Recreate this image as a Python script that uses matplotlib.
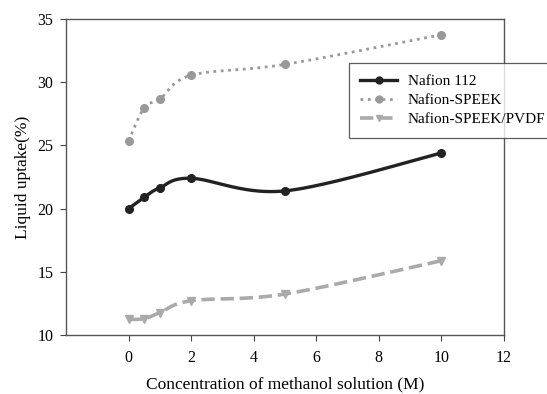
import numpy as np
import matplotlib
matplotlib.use("Agg")
import matplotlib.pyplot as plt

plt.rcParams["font.family"] = ["Liberation Serif", "DejaVu Serif"]

conc = [0, 0.5, 1, 2, 5, 10]
nafion112 = [20.0, 20.9, 21.65, 22.4, 21.4, 24.4]
nafion_speek = [25.35, 27.98, 28.67, 30.55, 31.41, 33.76]
nafion_speek_pvdf = [11.24, 11.29, 11.77, 12.71, 13.24, 15.88]


def smooth(xs, ys, n=40):
    # Excel-like smoothed line: Catmull-Rom control points as Bezier segments
    x = np.asarray(xs, float)
    y = np.asarray(ys, float)
    px = np.concatenate([[x[0]], x, [x[-1]]])
    py = np.concatenate([[y[0]], y, [y[-1]]])
    out_x, out_y = [], []
    t = np.linspace(0, 1, n)
    for i in range(1, len(px) - 2):
        p0 = np.array([px[i], py[i]])
        p3 = np.array([px[i + 1], py[i + 1]])
        p1 = p0 + (np.array([px[i + 1], py[i + 1]]) - np.array([px[i - 1], py[i - 1]])) / 6
        p2 = p3 - (np.array([px[i + 2], py[i + 2]]) - np.array([px[i], py[i]])) / 6
        b = ((1 - t) ** 3)[:, None] * p0 + (3 * (1 - t) ** 2 * t)[:, None] * p1 \
            + (3 * (1 - t) * t ** 2)[:, None] * p2 + (t ** 3)[:, None] * p3
        out_x.extend(b[:, 0])
        out_y.extend(b[:, 1])
    return out_x, out_y


fig = plt.figure(figsize=(5.47, 3.94), dpi=100)
ax = fig.add_axes([66 / 547, 1 - 335 / 394, 438 / 547, 316 / 394])

series = [
    ("Nafion 112", nafion112, "#222222", "-", "o", 2.4),
    ("Nafion-SPEEK", nafion_speek, "#999999", ":", "o", 2.0),
    ("Nafion-SPEEK/PVDF", nafion_speek_pvdf, "#aaaaaa", "--", "v", 2.6),
]
handles = []
for label, vals, col, ls, mk, lw in series:
    sx, sy = smooth(conc, vals)
    ax.plot(sx, sy, color=col, ls=ls, lw=lw)
    ax.plot(conc, vals, color=col, ls="none", marker=mk, ms=5.5)
    h, = ax.plot([], [], color=col, ls=ls, lw=lw, marker=mk, ms=5, label=label)
    handles.append(h)

ax.set_xlim(-2, 12)
ax.set_ylim(10, 35)
ax.set_xticks([0, 2, 4, 6, 8, 10, 12])
ax.set_yticks([10, 15, 20, 25, 30, 35])
ax.tick_params(direction="out", length=4, labelsize=11.5, color="#444444", pad=5)
ax.tick_params(axis="x", pad=7)
for sp in ax.spines.values():
    sp.set_color("#555555")
    sp.set_linewidth(1.0)

ax.set_xlabel("Concentration of methanol solution (M)", fontsize=12.5, labelpad=7)
ax.set_ylabel("Liquid uptake(%)", fontsize=12.5, labelpad=5)

leg = fig.legend(handles=handles, loc="upper left", bbox_to_anchor=(349 / 547, 1 - 63 / 394),
                 borderaxespad=0, fontsize=11, frameon=True, fancybox=False,
                 edgecolor="#333333", borderpad=0.75, handlelength=2.4, handletextpad=0.7,
                 labelspacing=0.35, numpoints=1)
leg.get_frame().set_linewidth(0.9)

fig.savefig("out.png", dpi=100)
